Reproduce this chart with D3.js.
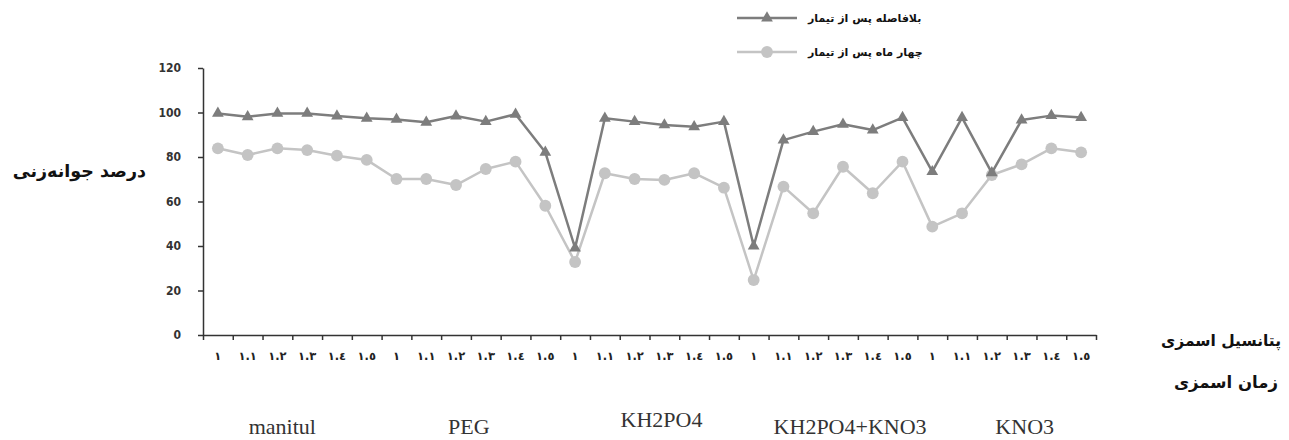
<!DOCTYPE html>
<html>
<head>
<meta charset="utf-8">
<script src="https://cdn.jsdelivr.net/npm/d3@7"></script>
<style>
  html, body { margin: 0; padding: 0; background: #fff; }
  svg { display: block; }
</style>
</head>
<body>
<svg id="chart" width="1289" height="440"></svg>
<script>
// ---------- data ----------
const groups = ["manitul", "PEG", "KH2PO4", "KH2PO4+KNO3", "KNO3"];
const times = ["١", "١.١", "١.٢", "١.٣", "١.٤", "١.٥"];
const seriesNames = ["بلافاصله پس از تیمار", "چهار ماه پس از تیمار"];
const immediate = [99.6, 98.1, 99.6, 99.6, 98.4, 97.4, 96.9, 95.6, 98.4, 95.9, 99.2, 82.1,
                   39.1, 97.4, 95.9, 94.4, 93.6, 95.9, 40.0, 87.6, 91.4, 94.7, 92.1, 97.7,
                   73.4, 97.7, 72.9, 96.6, 98.6, 97.7];
const fourMonths = [83.9, 80.9, 83.9, 83.1, 80.6, 78.7, 70.1, 70.1, 67.4, 74.6, 77.9, 58.1,
                    32.8, 72.7, 70.1, 69.7, 72.7, 66.2, 24.7, 66.7, 54.7, 75.6, 63.7, 77.9,
                    48.7, 54.7, 71.9, 76.7, 83.9, 82.1];
const yTicks = [0, 20, 40, 60, 80, 100, 120];
const yTitle = "درصد جوانه‌زنی";
const xTitle1 = "پتانسیل اسمزی";
const xTitle2 = "زمان اسمزی";

// ---------- layout ----------
const W = 1289, H = 440;
const m = { left: 203, right: 193, top: 68, bottom: 105 };
const svg = d3.select("#chart");
const persianFont = "'DejaVu Sans', sans-serif";
// horizontal nudge of each group caption relative to its group centre (layout only)
const groupLabelShift = [-10, -2, 12, 22, 18];

const categories = [];
groups.forEach(g => times.forEach(t => categories.push({ g, t })));
const n = categories.length;

const xb = d3.scaleBand().domain(d3.range(n)).range([m.left, W - m.right]);
const xc = i => xb(i) + xb.bandwidth() / 2;
const xEdge = d3.scaleLinear().domain([0, n]).range([m.left, W - m.right]);
const y = d3.scaleLinear().domain([0, 120]).range([H - m.bottom, m.top]);

// axes
const yAxis = svg.append("g")
  .attr("transform", `translate(${m.left},0)`)
  .call(d3.axisLeft(y).tickValues(yTicks).tickSize(5).tickSizeOuter(0).tickPadding(17));
yAxis.select(".domain").attr("stroke", "#333").attr("stroke-width", 1.5);
yAxis.selectAll(".tick line").attr("stroke", "#333").attr("stroke-width", 1.5);
yAxis.selectAll(".tick text")
  .attr("font-family", "'DejaVu Sans Condensed', 'DejaVu Sans', sans-serif")
  .attr("font-size", 12).attr("font-weight", "bold").attr("fill", "#333");

const xAxis = svg.append("g")
  .attr("transform", `translate(0,${H - m.bottom})`)
  .call(d3.axisBottom(xEdge).tickValues(d3.range(n + 1)).tickSize(5).tickSizeOuter(0).tickFormat(""));
xAxis.select(".domain").attr("stroke", "#333").attr("stroke-width", 1.5);
xAxis.selectAll(".tick line").attr("stroke", "#333").attr("stroke-width", 1.5);

// category tick labels
svg.append("g").selectAll("text").data(categories).join("text")
  .attr("x", (d, i) => xc(i))
  .attr("y", 360)
  .attr("text-anchor", "middle")
  .attr("font-family", persianFont)
  .attr("font-size", 11.5).attr("font-weight", "bold").attr("fill", "#222")
  .text(d => d.t);

// group labels
svg.append("g").selectAll("text").data(groups).join("text")
  .attr("x", (g, gi) => (xEdge(gi * times.length) + xEdge((gi + 1) * times.length)) / 2 + groupLabelShift[gi])
  .attr("y", (g, gi) => gi === 2 ? 427 : 434)
  .attr("text-anchor", "middle")
  .attr("font-family", "'Liberation Serif', 'DejaVu Serif', serif")
  .attr("font-size", 22).attr("fill", "#333")
  .text(g => g);

// lines
const series = [
  { name: seriesNames[0], values: immediate, color: "#7d7d7d", symbol: d3.symbolTriangle, size: 60 },
  { name: seriesNames[1], values: fourMonths, color: "#c4c4c4", symbol: d3.symbolCircle, size: 110 }
];
const line = d3.line().x((d, i) => xc(i)).y(d => y(d));
[series[1], series[0]].forEach(s => {
  svg.append("path").datum(s.values)
    .attr("d", line).attr("fill", "none")
    .attr("stroke", s.color).attr("stroke-width", 2.5).attr("stroke-linejoin", "round");
  svg.append("g").selectAll("path").data(s.values).join("path")
    .attr("transform", (d, i) => `translate(${xc(i)},${y(d)})`)
    .attr("d", d3.symbol().type(s.symbol).size(s.size)())
    .attr("fill", s.color);
});

// legend
const legendRows = [18, 52];
series.forEach((s, k) => {
  const g = svg.append("g").attr("transform", `translate(737,${legendRows[k]})`);
  g.append("line").attr("x1", 0).attr("x2", 60).attr("y1", 0).attr("y2", 0)
    .attr("stroke", s.color).attr("stroke-width", 2.5);
  g.append("path").attr("transform", "translate(30,0)")
    .attr("d", d3.symbol().type(s.symbol).size(s.size)()).attr("fill", s.color);
  g.append("text").attr("x", 71).attr("y", 0).attr("dy", "0.35em")
    .attr("text-anchor", "start")
    .attr("font-family", persianFont).attr("font-size", 11).attr("font-weight", "bold")
    .attr("fill", "#111")
    .text(s.name);
});

// titles
svg.append("text").attr("x", 146).attr("y", 171).attr("dy", "0.35em")
  .attr("text-anchor", "end")
  .attr("font-family", persianFont).attr("font-size", 17.5).attr("font-weight", "bold").attr("fill", "#111")
  .text(yTitle);
svg.append("text").attr("x", 1281).attr("y", 341).attr("dy", "0.35em")
  .attr("text-anchor", "end")
  .attr("font-family", persianFont).attr("font-size", 15.5).attr("font-weight", "bold").attr("fill", "#111")
  .text(xTitle1);
svg.append("text").attr("x", 1278).attr("y", 382).attr("dy", "0.35em")
  .attr("text-anchor", "end")
  .attr("font-family", persianFont).attr("font-size", 16.5).attr("font-weight", "bold").attr("fill", "#111")
  .text(xTitle2);
</script>
</body>
</html>
